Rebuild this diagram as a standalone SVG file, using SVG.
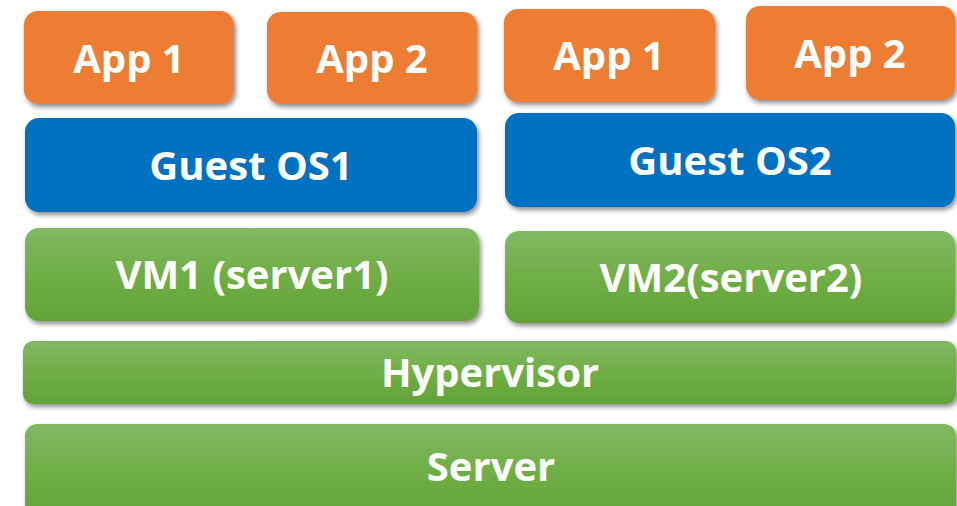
<svg xmlns="http://www.w3.org/2000/svg" width="957" height="506" viewBox="0 0 957 506">
<defs>
<linearGradient id="g" x1="0" y1="0" x2="0" y2="1">
<stop offset="0" stop-color="#80B963"/>
<stop offset="0.5" stop-color="#70AE46"/>
<stop offset="1" stop-color="#62A338"/>
</linearGradient>
<filter id="sh" x="-5%" y="-10%" width="115%" height="130%">
<feGaussianBlur in="SourceAlpha" stdDeviation="2.5"/>
<feOffset dx="2" dy="3" result="b"/>
<feComponentTransfer><feFuncA type="linear" slope="0.45"/></feComponentTransfer>
<feMerge><feMergeNode/><feMergeNode in="SourceGraphic"/></feMerge>
</filter>
</defs>
<style>
.o{fill:#ED7D31;filter:url(#sh)}
.b{fill:#0070C0;filter:url(#sh)}
.gr{fill:url(#g);filter:url(#sh)}
text{font-family:"Open Sans","Liberation Sans",sans-serif;font-weight:bold;font-size:40px;fill:#fff;text-anchor:middle}
</style>
<rect width="957" height="506" fill="#fff"/>
<g id="app1a"><rect class="o" x="24" y="11" width="210" height="93" rx="14"/><text x="129" y="73">App 1</text></g>
<g id="app2a"><rect class="o" x="267" y="12" width="210" height="92" rx="14"/><text x="372" y="73">App 2</text></g>
<g id="app1b"><rect class="o" x="504" y="9" width="211" height="93" rx="14"/><text x="609" y="70">App 1</text></g>
<g id="app2b"><rect class="o" x="746" y="6" width="209" height="94" rx="14"/><text x="850" y="68">App 2</text></g>
<g id="guest1"><rect class="b" x="25" y="118" width="452" height="94" rx="14"/><text x="251" y="180">Guest OS1</text></g>
<g id="guest2"><rect class="b" x="505" y="113" width="450" height="94" rx="14"/><text x="730" y="175">Guest OS2</text></g>
<g id="vm1"><rect class="gr" x="25" y="228" width="454" height="93" rx="14"/><text x="252" y="289">VM1 (server1)</text></g>
<g id="vm2"><rect class="gr" x="505" y="231" width="450" height="92" rx="14"/><text x="731" y="292">VM2(server2)</text></g>
<g id="hypervisor"><rect class="gr" x="23" y="341" width="933" height="63" rx="10"/><text x="490" y="387">Hypervisor</text></g>
<g id="server"><rect class="gr" x="25" y="424" width="931" height="95" rx="12"/><text x="491" y="481">Server</text></g>
<g id="connectors"/>
</svg>
